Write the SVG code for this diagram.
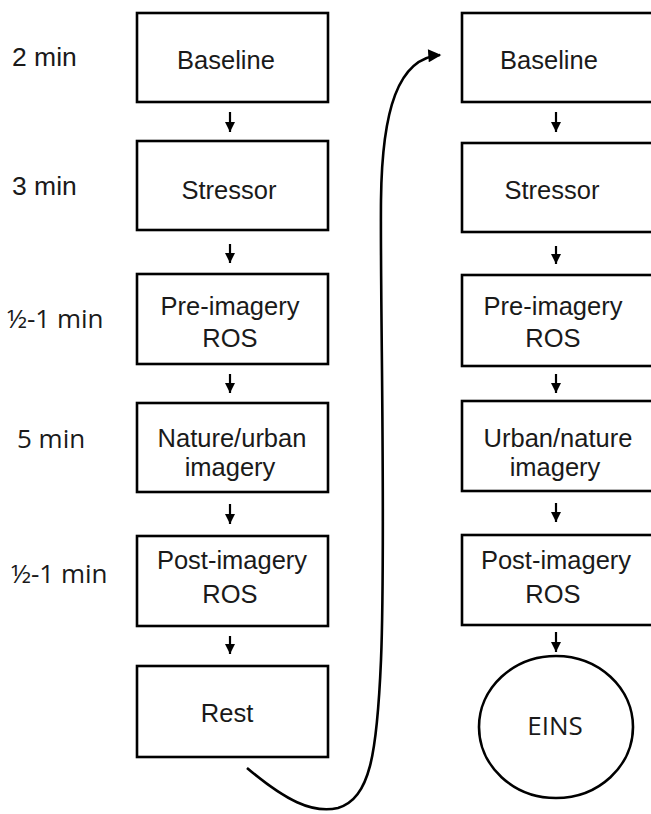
<svg xmlns="http://www.w3.org/2000/svg" width="651" height="814" viewBox="0 0 651 814">
<style>
.box{fill:#fff;stroke:#000;stroke-width:2.6}
.t{font-family:"Liberation Sans",Arial,sans-serif;font-size:25.5px;fill:#1a1a1a;text-anchor:middle}
.l{font-family:"Liberation Sans",Arial,sans-serif;font-size:26.5px;fill:#1a1a1a}
.c{font-family:"Open Sans","Noto Sans",sans-serif;font-size:26px;fill:#1a1a1a}
.a{stroke:#000;stroke-width:2.2;fill:none}
</style>
<defs>
<marker id="ah" viewBox="0 0 10 10" refX="10" refY="5" markerWidth="11" markerHeight="10" markerUnits="userSpaceOnUse" orient="auto">
<path d="M0,0 L10,5 L0,10 z" fill="#000"/>
</marker>
<marker id="ah2" viewBox="0 0 10 10" refX="9" refY="5" markerWidth="14" markerHeight="13" markerUnits="userSpaceOnUse" orient="auto">
<path d="M0,0 L10,5 L0,10 z" fill="#000"/>
</marker>
</defs>
<rect width="651" height="814" fill="#fff"/>
<g id="labels">
<text class="l" x="12" y="66">2 min</text>
<text class="l" x="12" y="195">3 min</text>
<text class="c" x="7" y="328">½-1 min</text>
<text class="c" x="17" y="448">5 min</text>
<text class="c" x="11" y="583">½-1 min</text>
</g>
<g id="L1"><rect class="box" x="137" y="13" width="191" height="89"/><text class="t" x="226" y="69">Baseline</text></g>
<g id="L2"><rect class="box" x="137" y="141" width="191" height="89"/><text class="t" x="229" y="199">Stressor</text></g>
<g id="L3"><rect class="box" x="137" y="274" width="191" height="90"/><text class="t" x="230" y="315">Pre-imagery</text><text class="t" x="230" y="347">ROS</text></g>
<g id="L4"><rect class="box" x="137" y="403" width="191" height="89"/><text class="t" x="232" y="447">Nature/urban</text><text class="t" x="230" y="476">imagery</text></g>
<g id="L5"><rect class="box" x="137" y="536" width="191" height="90"/><text class="t" x="232" y="569">Post-imagery</text><text class="t" x="230" y="603">ROS</text></g>
<g id="L6"><rect class="box" x="137" y="666" width="191" height="91"/><text class="t" x="227" y="722">Rest</text></g>
<g id="R1"><rect class="box" x="462" y="13" width="200" height="89"/><text class="t" x="549" y="69">Baseline</text></g>
<g id="R2"><rect class="box" x="462" y="143" width="200" height="89"/><text class="t" x="552" y="199">Stressor</text></g>
<g id="R3"><rect class="box" x="462" y="275" width="200" height="91"/><text class="t" x="553" y="315">Pre-imagery</text><text class="t" x="553" y="347">ROS</text></g>
<g id="R4"><rect class="box" x="462" y="401" width="200" height="90"/><text class="t" x="558" y="447">Urban/nature</text><text class="t" x="555" y="476">imagery</text></g>
<g id="R5"><rect class="box" x="462" y="535" width="200" height="90"/><text class="t" x="556" y="569">Post-imagery</text><text class="t" x="553" y="603">ROS</text></g>
<g id="R6"><ellipse class="box" cx="556" cy="727" rx="77" ry="71"/><text class="c" x="555" y="735" text-anchor="middle">EINS</text></g>
<g id="connectors">
<line class="a" x1="230" y1="112" x2="230" y2="132" marker-end="url(#ah)"/>
<line class="a" x1="230" y1="244" x2="230" y2="263" marker-end="url(#ah)"/>
<line class="a" x1="230" y1="374" x2="230" y2="393" marker-end="url(#ah)"/>
<line class="a" x1="230" y1="504" x2="230" y2="524" marker-end="url(#ah)"/>
<line class="a" x1="230" y1="636" x2="230" y2="654" marker-end="url(#ah)"/>
<line class="a" x1="556" y1="112" x2="556" y2="132" marker-end="url(#ah)"/>
<line class="a" x1="556" y1="246" x2="556" y2="264" marker-end="url(#ah)"/>
<line class="a" x1="556" y1="374" x2="556" y2="393" marker-end="url(#ah)"/>
<line class="a" x1="556" y1="503" x2="556" y2="522" marker-end="url(#ah)"/>
<line class="a" x1="556" y1="632" x2="556" y2="652" marker-end="url(#ah)"/>
<path class="a" style="stroke-width:2.6" d="M247,768 C285,800 312,814 338,808 C370,798 377,755 381,660 C386,540 380,300 381,200 C382,110 398,58 440,55" marker-end="url(#ah2)"/>
</g>
</svg>
